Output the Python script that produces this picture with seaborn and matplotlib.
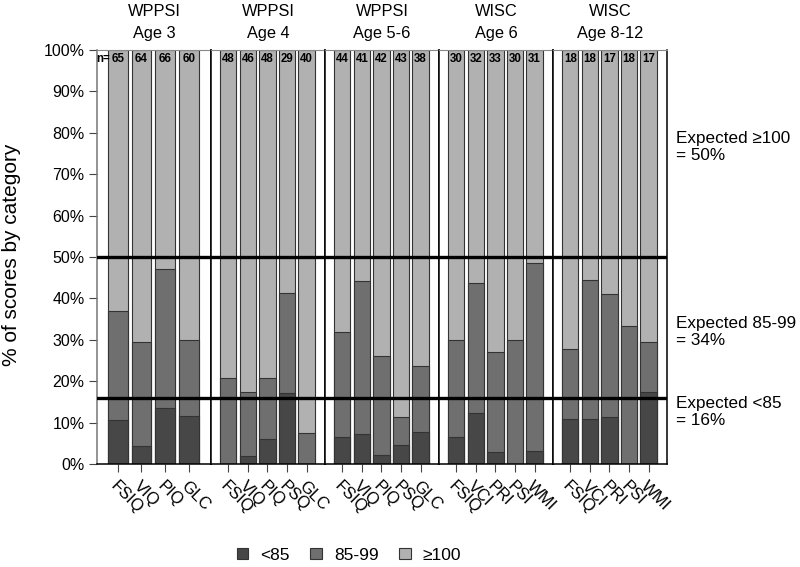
import matplotlib
matplotlib.use("Agg")
import matplotlib.pyplot as plt
from matplotlib.patches import Patch
from matplotlib.ticker import FuncFormatter
import seaborn as sns
import pandas as pd

sns.set_theme(style="white")
plt.rcParams['font.family'] = ['Liberation Sans', 'DejaVu Sans']
plt.rcParams['text.color'] = 'black'
plt.rcParams['axes.labelcolor'] = 'black'
plt.rcParams['xtick.color'] = 'black'
plt.rcParams['ytick.color'] = 'black'

# ---- data (percent of scores by category) ----
panel_titles = ["WPPSI\nAge 3", "WPPSI\nAge 4", "WPPSI\nAge 5-6", "WISC\nAge 6", "WISC\nAge 8-12"]

tests_p1 = ["FSIQ", "VIQ", "PIQ", "GLC"]
n_p1 = [65, 64, 66, 60]
lt85_p1 = [10.7, 4.5, 13.5, 11.7]
mid_p1 = [26.3, 25.1, 33.5, 18.3]

tests_p2 = ["FSIQ", "VIQ", "PIQ", "PSQ", "GLC"]
n_p2 = [48, 46, 48, 29, 40]
lt85_p2 = [0.0, 2.1, 6.1, 17.1, 0.0]
mid_p2 = [20.9, 15.3, 14.8, 24.3, 7.5]

tests_p3 = ["FSIQ", "VIQ", "PIQ", "PSQ", "GLC"]
n_p3 = [44, 41, 42, 43, 38]
lt85_p3 = [6.7, 7.3, 2.3, 4.6, 7.8]
mid_p3 = [25.1, 36.8, 23.9, 6.9, 15.9]

tests_p4 = ["FSIQ", "VCI", "PRI", "PSI", "WMI"]
n_p4 = [30, 32, 33, 30, 31]
lt85_p4 = [6.5, 12.5, 3.1, 0.0, 3.2]
mid_p4 = [23.5, 31.3, 24.1, 30.0, 45.3]

tests_p5 = ["FSIQ", "VCI", "PRI", "PSI", "WMI"]
n_p5 = [18, 18, 17, 18, 17]
lt85_p5 = [11.0, 11.0, 11.5, 0.0, 17.5]
mid_p5 = [16.8, 33.5, 29.6, 33.4, 11.9]

categories = ["<85", "85-99", "\u2265100"]
expected_labels = ["Expected \u2265100\n= 50%", "Expected 85-99\n= 34%", "Expected <85\n= 16%"]
ref_lines = [50, 16]

colors = {"<85": "#474747", "85-99": "#6f6f6f", "\u2265100": "#b1b1b1"}

panels = [
    (tests_p1, n_p1, lt85_p1, mid_p1),
    (tests_p2, n_p2, lt85_p2, mid_p2),
    (tests_p3, n_p3, lt85_p3, mid_p3),
    (tests_p4, n_p4, lt85_p4, mid_p4),
    (tests_p5, n_p5, lt85_p5, mid_p5),
]

fig = plt.figure(figsize=(8, 5.67), dpi=100)
L, R, B, T = 97 / 800, 667 / 800, 1 - 464.4 / 567, 1 - 49.6 / 567
axes = fig.subplots(1, 5, sharey=True, gridspec_kw=dict(wspace=0, left=L, right=R, bottom=B, top=T))

for i, (ax, (tests, ns, lt, mid)) in enumerate(zip(axes, panels)):
    df = pd.DataFrame({"test": tests, "n": ns, "lt85": lt, "mid": mid})
    df["cum_mid"] = df["lt85"] + df["mid"]
    df["total"] = df["cum_mid"] + (100 - df["cum_mid"])  # >=100 fills to 100%
    for col, cat in [("total", "\u2265100"), ("cum_mid", "85-99"), ("lt85", "<85")]:
        sns.barplot(data=df, x="test", y=col, order=tests, color=colors[cat], width=0.84,
                    edgecolor="#333333", linewidth=0.8, saturation=1, ax=ax)
    nb = len(tests)
    ax.set_xlim(-0.88, nb - 1 + 0.94)
    ax.set_ylim(0, 100)
    for y in ref_lines:
        ax.axhline(y, color="black", lw=2.4, zorder=5)
    for j, nv in enumerate(ns):
        ax.text(j, 97.8, str(nv), ha="center", va="center", fontsize=8.3, fontweight="bold", zorder=6)
    if i == 0:
        ax.annotate("n=", xy=(0, 97.8), xytext=(-5.8, 0), textcoords="offset points",
                    ha="right", va="center", fontsize=8.3, fontweight="bold", zorder=6)
    ax.set_title(panel_titles[i], fontsize=11.8, linespacing=1.6, pad=8, color="black")
    ax.set_xlabel("")
    ax.set_ylabel("")
    ax.tick_params(axis="x", bottom=True, length=6, width=0.8, color="#444444", pad=4)
    for lab in ax.get_xticklabels():
        lab.set_rotation(-45)
        lab.set_ha("left")
        lab.set_va("top")
        lab.set_rotation_mode("anchor")
        lab.set_fontsize(12)
    for side in ["left", "right", "bottom"]:
        ax.spines[side].set_color("black")
        ax.spines[side].set_linewidth(1.1)
    ax.spines["top"].set_color("#888888")
    ax.spines["top"].set_linewidth(0.8)
    if i == 0:
        ax.tick_params(axis="y", left=True, length=6, width=0.8, color="#444444", labelsize=11.5, pad=3)
        ax.spines["left"].set_color("#777777")
    else:
        ax.tick_params(axis="y", left=False)

axes[0].set_yticks(range(0, 101, 10))
axes[0].yaxis.set_major_formatter(FuncFormatter(lambda v, p: f"{int(v)}%"))
fig.text(12 / 800, 1 - 255 / 567, "% of scores by category", rotation=90, ha="center", va="center", fontsize=15)

exp_y = [147, 332, 412]
for txt, yy in zip(expected_labels, exp_y):
    fig.text(676 / 800, 1 - yy / 567, txt, ha="left", va="center", fontsize=12.3, linespacing=1.2)

handles = [Patch(facecolor=colors[c], edgecolor="#333333", linewidth=0.8) for c in categories]
fig.legend(handles, categories, loc="center", bbox_to_anchor=(349 / 800, 1 - 555 / 567), ncol=3,
           frameon=False, fontsize=12.5, handlelength=0.65, handleheight=0.65, handletextpad=0.7,
           columnspacing=1.2)

fig.savefig("out.png", dpi=100)
